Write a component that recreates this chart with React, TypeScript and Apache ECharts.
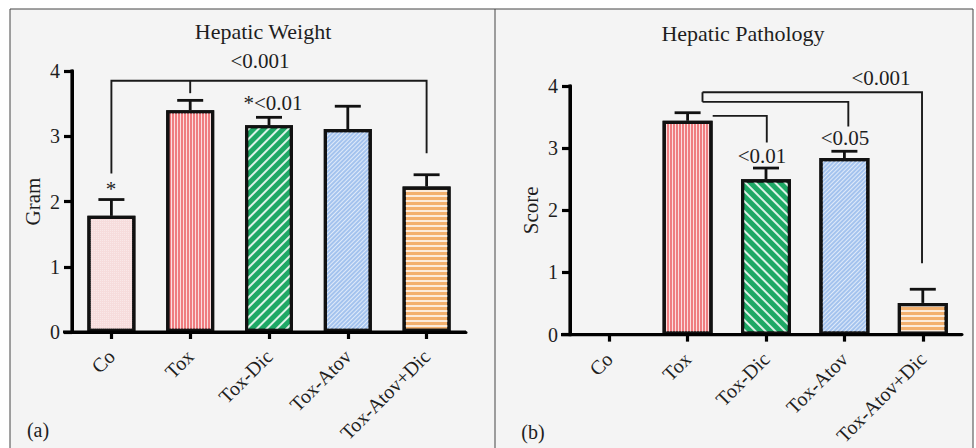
import React, { useEffect, useRef } from "react";
import * as echarts from "echarts";

const categories = ["Co", "Tox", "Tox-Dic", "Tox-Atov", "Tox-Atov+Dic"];
const weightMeans = [1.78, 3.4, 3.17, 3.11, 2.23];
const weightErrors = [0.25, 0.15, 0.12, 0.35, 0.18];
const pathologyMeans = [0, 3.44, 2.5, 2.84, 0.51];
const pathologyErrors = [0, 0.13, 0.18, 0.11, 0.22];
const yTicks = [0, 1, 2, 3, 4];
const yMax = 4;

const weightBracket = { from: 0, to: 4, level: 3.85, leftDrop: 2.43, rightDrop: 2.74, midAt: 1, midDrop: 3.66 };
const pathologyBrackets = [
  { from: 1.32, to: 2.01, level: 3.52, drop: 3.09 },
  { from: 1.19, to: 3.05, level: 3.745, drop: 3.35 },
  { from: 1.19, to: 3.99, level: 3.9, drop: 1.15 },
];

const FONT = "Liberation Serif";
const TXT = "#1e1e1e";

const fills = ["#f6dcdc", "#ef7d80", "#1ea865", "#a4c3ee", "#f3b06e"];
const decalsA: any[] = [
  { symbol: "rect", symbolSize: 1, color: "rgba(255,255,255,0.35)", dashArrayX: [1, 1], dashArrayY: [1, 1], rotation: 0 },
  { symbol: "rect", symbolSize: 1, color: "rgba(255,255,255,0.75)", dashArrayX: [1, 2], dashArrayY: [4, 0], rotation: 0 },
  { symbol: "rect", symbolSize: 1, color: "rgba(255,255,255,0.85)", dashArrayX: [4, 0], dashArrayY: [1.1, 4.6], rotation: -Math.PI / 4 },
  { symbol: "rect", symbolSize: 1, color: "rgba(255,255,255,0.65)", dashArrayX: [4, 0], dashArrayY: [0.9, 1.6], rotation: -Math.PI / 4 },
  { symbol: "rect", symbolSize: 1, color: "rgba(255,255,255,0.75)", dashArrayX: [4, 0], dashArrayY: [1.2, 2.6], rotation: 0 },
];
const decalsB: any[] = decalsA.map((d, i) => (i === 2 ? { ...d, rotation: Math.PI / 4 } : d));

function fx(api: any, f: number) {
  const base = Math.floor(f);
  const x0 = api.coord([base, 0])[0];
  const bw = api.size([1, 0])[0];
  return x0 + (f - base) * bw;
}

function axisFrame(api: any) {
  const bw = api.size([1, 0])[0];
  const p0 = api.coord([0, 0]);
  const left = p0[0] - bw / 2;
  const right = api.coord([categories.length - 1, 0])[0] + bw / 2;
  const top = api.coord([0, yMax])[1];
  const st = { stroke: "#000", lineWidth: 3.2, lineCap: "butt" };
  return [
    { type: "line", shape: { x1: left - 9, y1: p0[1], x2: right, y2: p0[1] }, style: st },
    { type: "line", shape: { x1: left, y1: top - 1.5, x2: left, y2: p0[1] + 1.5 }, style: st },
  ];
}

function errorSeries(xIndex: number, means: number[], errs: number[]) {
  return {
    type: "custom",
    xAxisIndex: xIndex,
    yAxisIndex: xIndex,
    clip: false,
    z: 1,
    data: means.map((m, i) => [i, m, errs[i]]),
    renderItem: (params: any, api: any) => {
      const i = api.value(0);
      const m = api.value(1);
      const e = api.value(2);
      if (e <= 0) return { type: "group", children: [] };
      const p0 = api.coord([i, m]);
      const p1 = api.coord([i, m + e]);
      const half = 13;
      const style = { stroke: "#111", lineWidth: 2.8 };
      return {
        type: "group",
        children: [
          { type: "line", shape: { x1: p0[0], y1: p0[1], x2: p1[0], y2: p1[1] }, style },
          { type: "line", shape: { x1: p1[0] - half, y1: p1[1], x2: p1[0] + half, y2: p1[1] }, style },
        ],
      };
    },
  };
}

function barSeries(xIndex: number, means: number[], decals: any[], width: number) {
  return {
    type: "bar",
    xAxisIndex: xIndex,
    yAxisIndex: xIndex,
    barWidth: width,
    z: 3,
    data: means.map((v, i) => ({
      value: v,
      itemStyle: { color: fills[i], borderColor: "#111", borderWidth: v > 0 ? 3.2 : 0, decal: decals[i] },
    })),
  };
}

export default function App() {
  const ref = useRef<HTMLDivElement>(null);
  useEffect(() => {
    if (!ref.current) return;
    const chart = echarts.init(ref.current, null, { renderer: "svg" });
    const lineStyle = { stroke: "#1a1a1a", lineWidth: 1.9, fill: "none" };

    const yAxisBase = (name: string) => ({
      type: "value",
      min: 0,
      max: yMax,
      interval: 1,
      name,
      nameLocation: "middle",
      nameGap: 29,
      nameTextStyle: { fontFamily: FONT, fontSize: 21, color: TXT },
      axisLine: { show: true, lineStyle: { color: "#000", width: 3 } },
      axisTick: { show: true, length: 8, lineStyle: { color: "#000", width: 3.2 } },
      splitLine: { show: false },
      axisLabel: { fontFamily: FONT, fontSize: 20, color: TXT, margin: 12, formatter: (v: number) => (yTicks.includes(v) ? String(v) : "") },
    });
    const xAxisBase = () => ({
      type: "category",
      data: categories,
      axisLine: { show: true, lineStyle: { color: "#000", width: 3 } },
      axisTick: { show: true, alignWithLabel: true, length: 7, lineStyle: { color: "#000", width: 3.2 } },
      axisLabel: { fontFamily: FONT, fontSize: 20, color: TXT, rotate: 45, margin: 21, interval: 0 },
    });

    const t = (text: string, x: number, y: number, size: number) => ({
      type: "text",
      x,
      y,
      style: { text, font: `${size}px "${FONT}"`, fill: TXT, align: "center", verticalAlign: "middle" },
    });

    chart.setOption({
      animation: false,
      backgroundColor: "#ffffff",
      grid: [
        { left: 72, top: 71, width: 394, height: 261 },
        { left: 570, top: 86, width: 392, height: 251 },
      ],
      xAxis: [{ ...xAxisBase(), gridIndex: 0 }, { ...xAxisBase(), gridIndex: 1 }],
      yAxis: [{ ...yAxisBase("Gram"), gridIndex: 0 }, { ...yAxisBase("Score"), gridIndex: 1 }],
      graphic: [
        { type: "rect", z: -100, silent: true, shape: { x: 10, y: 9, width: 963, height: 460 }, style: { fill: "#f4f4f4", stroke: "#444", lineWidth: 1 } },
        { type: "line", z: -99, silent: true, shape: { x1: 495, y1: 9, x2: 495, y2: 448 }, style: { stroke: "#444", lineWidth: 1 } },
        t("Hepatic Weight", 263, 31, 22),
        t("Hepatic Pathology", 743, 33, 22),
        t("<0.001", 260, 61, 21),
        t("*", 111, 189, 21),
        t("*<0.01", 273, 103, 21),
        t("<0.01", 762, 156, 21),
        t("<0.05", 845, 138, 21),
        t("<0.001", 881, 78, 21),
        t("(a)", 38, 430, 20),
        t("(b)", 533, 432, 20),
      ],
      series: [
        errorSeries(0, weightMeans, weightErrors),
        barSeries(0, weightMeans, decalsA, 48),
        errorSeries(1, pathologyMeans, pathologyErrors),
        barSeries(1, pathologyMeans, decalsB, 50),
        {
          type: "custom",
          xAxisIndex: 0,
          yAxisIndex: 0,
          clip: false,
          z: 5,
          data: [[0, 0]],
          renderItem: (params: any, api: any) => {
            const b = weightBracket;
            const xl = fx(api, b.from);
            const xr = fx(api, b.to);
            const xm = fx(api, b.midAt);
            const yl = api.coord([0, b.level])[1];
            const yld = api.coord([0, b.leftDrop])[1];
            const yrd = api.coord([0, b.rightDrop])[1];
            const ymd = api.coord([0, b.midDrop])[1];
            return {
              type: "group",
              children: [
                { type: "polyline", shape: { points: [[xl, yld], [xl, yl], [xr, yl], [xr, yrd]] }, style: lineStyle },
                { type: "line", shape: { x1: xm, y1: yl, x2: xm, y2: ymd }, style: lineStyle },
                ...axisFrame(api),
              ],
            };
          },
        },
        {
          type: "custom",
          xAxisIndex: 1,
          yAxisIndex: 1,
          clip: false,
          z: 5,
          data: [[0, 0]],
          renderItem: (params: any, api: any) => {
            const children: any[] = pathologyBrackets.map((b) => {
              const xl = fx(api, b.from);
              const xr = fx(api, b.to);
              const yl = api.coord([0, b.level])[1];
              const yd = api.coord([0, b.drop])[1];
              return { type: "polyline", shape: { points: [[xl, yl], [xr, yl], [xr, yd]] }, style: lineStyle };
            });
            const xc = fx(api, pathologyBrackets[1].from);
            children.push({
              type: "line",
              shape: { x1: xc, y1: api.coord([0, pathologyBrackets[2].level])[1], x2: xc, y2: api.coord([0, pathologyBrackets[1].level])[1] },
              style: lineStyle,
            });
            children.push(...axisFrame(api));
            return { type: "group", children };
          },
        },
      ],
    });
    return () => chart.dispose();
  }, []);
  return <div ref={ref} style={{ position: "absolute", left: 0, top: 0, width: 976, height: 448 }} />;
}
